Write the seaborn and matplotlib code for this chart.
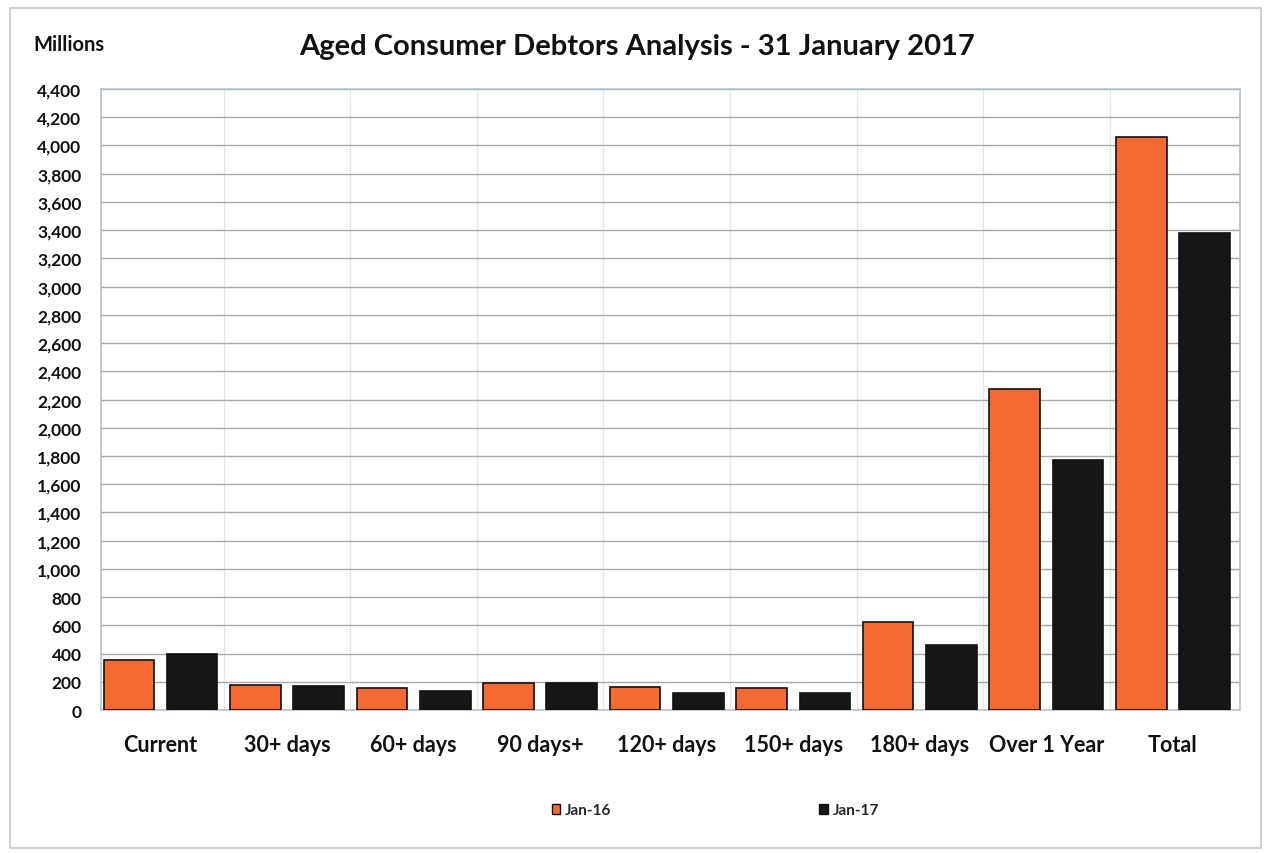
import matplotlib
matplotlib.use("Agg")
import matplotlib.pyplot as plt
from matplotlib.patches import Rectangle
from matplotlib.ticker import FuncFormatter, MultipleLocator
import pandas as pd
import seaborn as sns

categories = ["Current", "30+ days", "60+ days", "90 days+", "120+ days",
              "150+ days", "180+ days", "Over 1 Year", "Total"]
jan16 = [352, 175, 156, 195, 163, 156, 624, 2275, 4060]
jan17 = [400, 172, 135, 190, 120, 120, 460, 1768, 3382]
series = ["Jan-16", "Jan-17"]

df = pd.DataFrame({
    "Category": categories * 2,
    "Value": jan16 + jan17,
    "Period": [series[0]] * len(categories) + [series[1]] * len(categories),
})

sns.set_theme(style="white")
plt.rcParams["font.family"] = ["Lato", "DejaVu Sans"]

fig = plt.figure(figsize=(12.71, 8.54), dpi=100)
ax = fig.add_axes([0.0795, 0.1674, 0.8961, 0.7272])

palette = {"Jan-16": "#F46A32", "Jan-17": "#161616"}
sns.barplot(data=df, x="Category", y="Value", hue="Period", order=categories,
            hue_order=series, palette=palette, width=1.0, gap=0.2,
            edgecolor="#111111", linewidth=1.2, saturation=1, ax=ax,
            legend=False, zorder=3)

ax.set_ylim(0, 4400)
ax.set_xlim(-0.47, len(categories) - 0.47)
ax.yaxis.set_major_locator(MultipleLocator(200))
ax.yaxis.set_major_formatter(FuncFormatter(lambda v, p: f"{int(v):,}"))
ax.set_xlabel("")
ax.set_ylabel("")

# gridlines: horizontal at each tick, faint vertical at category boundaries
ax.grid(axis="y", color="#a8a8a8", linewidth=1.0, zorder=0)
for b in range(1, len(categories)):
    ax.axvline(b - 0.5, color="#e6e6e6", linewidth=0.9, zorder=0)

for s in ax.spines.values():
    s.set_color("#b9c3cf")
    s.set_linewidth(1.2)

ax.tick_params(axis="y", length=0, pad=14, labelsize=12.5)
ax.tick_params(axis="x", length=0, pad=17, labelsize=15.5)
for lab in ax.get_yticklabels() + ax.get_xticklabels():
    lab.set_fontweight("bold")
    lab.set_color("#111111")

fig.text(0.5015, 0.945, "Aged Consumer Debtors Analysis - 31 January 2017",
         ha="center", va="center", fontsize=21, fontweight="bold", color="#111111")
fig.text(0.026, 0.947, "Millions", ha="left", va="center", fontsize=14.5,
         fontweight="bold", color="#111111")

handles = [Rectangle((0, 0), 1, 1, facecolor=palette[s], edgecolor="#111111",
                     linewidth=1) for s in series]
fig.legend(handles, series, loc="center", bbox_to_anchor=(0.563, 0.05), ncol=2,
           frameon=False, handlelength=0.55, handleheight=0.6, handletextpad=0.35,
           columnspacing=13.6, prop={"size": 11, "weight": "bold"})

# thin frame around the whole chart area
fig.patches.append(Rectangle((0.008, 0.006), 0.984, 0.984, transform=fig.transFigure,
                             fill=False, edgecolor="#c8c8c8", linewidth=1.2))

fig.savefig("out.png", dpi=100, facecolor="white")
